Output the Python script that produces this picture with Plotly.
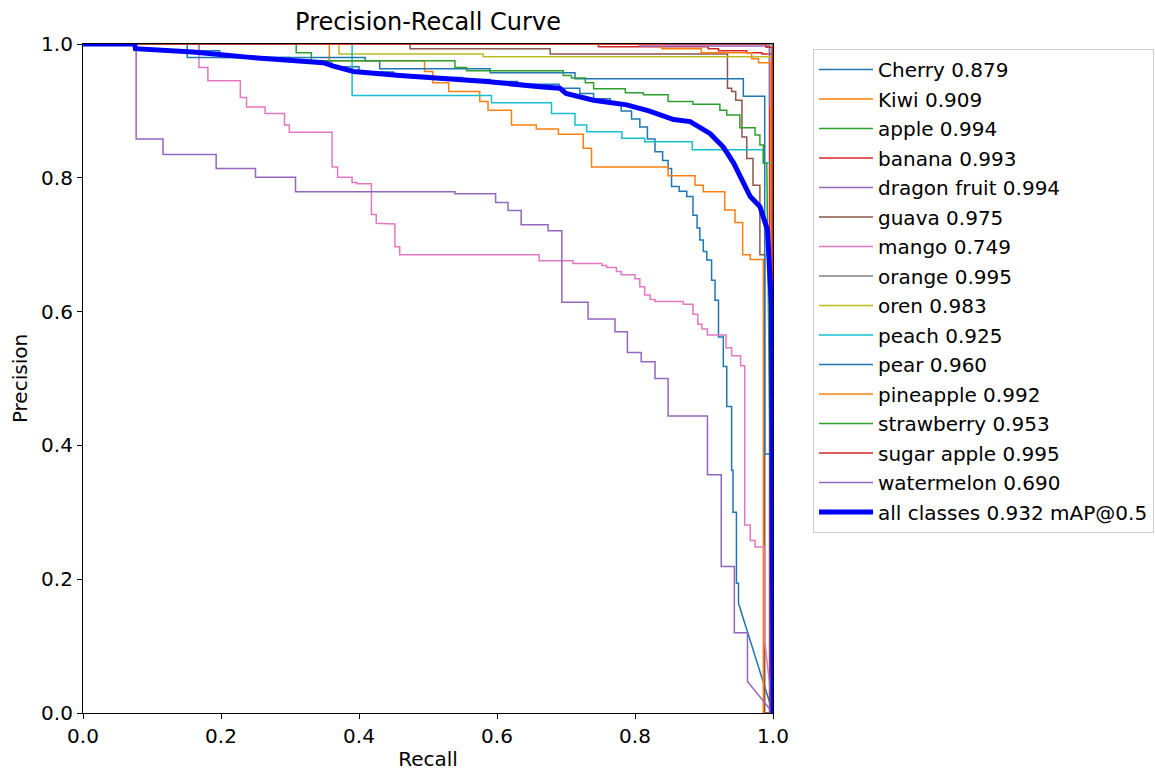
import plotly.graph_objects as go

# ---------------- data (step breakpoints: precision p[i] holds from recall r[i]) ----------------
cherry_r = [0, 0.168, 0.198, 0.30, 0.36, 0.40, 0.45, 0.50, 0.55, 0.59, 0.63, 0.69, 0.72, 0.74, 0.764,
            0.78, 0.795, 0.807, 0.818, 0.829, 0.840, 0.848, 0.853, 0.864, 0.875, 0.884, 0.890, 0.894,
            0.899, 0.904, 0.911, 0.916, 0.921, 0.928, 0.933, 0.940, 0.942, 0.947, 0.950]
cherry_p = [1.0, 0.990, 0.980, 0.974, 0.966, 0.958, 0.953, 0.950, 0.947, 0.944, 0.940, 0.934, 0.926, 0.918,
            0.912, 0.90, 0.888, 0.876, 0.858, 0.839, 0.826, 0.814, 0.787, 0.780, 0.772, 0.744, 0.725,
            0.707, 0.69, 0.677, 0.647, 0.617, 0.562, 0.518, 0.458, 0.363, 0.30, 0.194, 0.164]

kiwi_r = [0, 0.357, 0.495, 0.507, 0.530, 0.575, 0.587, 0.621, 0.657, 0.689, 0.725, 0.737, 0.848, 0.887,
          0.899, 0.930, 0.945, 0.956, 0.967, 0.986]
kiwi_p = [1.0, 0.975, 0.959, 0.942, 0.929, 0.914, 0.901, 0.879, 0.873, 0.865, 0.844, 0.816, 0.803, 0.789,
          0.779, 0.752, 0.733, 0.685, 0.678, 0.0]

apple_r = [0, 0.995, 0.999]
apple_p = [1.0, 0.985, 0.0]

banana_r = [0, 0.747, 0.906, 0.921, 0.962, 0.984, 0.995]
banana_p = [1.0, 0.996, 0.993, 0.990, 0.987, 0.985, 0.0]

dragon_r = [0, 0.807, 0.995, 0.999]
dragon_p = [1.0, 0.997, 0.907, 0.0]

guava_r = [0, 0.474, 0.677, 0.934, 0.940, 0.946, 0.955, 0.962, 0.971, 0.981, 0.988]
guava_p = [1.0, 0.993, 0.985, 0.934, 0.929, 0.916, 0.861, 0.829, 0.789, 0.685, 0.0]

mango_r = [0, 0.168, 0.181, 0.228, 0.237, 0.264, 0.292, 0.299, 0.361, 0.369, 0.390, 0.397, 0.418, 0.425,
           0.439, 0.452, 0.459, 0.661, 0.710, 0.752, 0.759, 0.773, 0.780, 0.800, 0.807, 0.814, 0.822,
           0.829, 0.870, 0.884, 0.891, 0.897, 0.905, 0.932, 0.940, 0.953, 0.959, 0.967, 0.974, 0.988]
mango_p = [1.0, 0.965, 0.945, 0.920, 0.906, 0.896, 0.879, 0.868, 0.816, 0.801, 0.793, 0.791, 0.745, 0.732,
           0.731, 0.697, 0.685, 0.676, 0.672, 0.669, 0.666, 0.660, 0.655, 0.649, 0.637, 0.625, 0.618,
           0.615, 0.611, 0.596, 0.581, 0.574, 0.565, 0.546, 0.534, 0.519, 0.281, 0.258, 0.248, 0.107]

orange_r = [0, 0.999]
orange_p = [1.0, 0.0]

oren_r = [0, 0.371, 0.580, 0.998]
oren_p = [1.0, 0.985, 0.981, 0.0]

peach_r = [0, 0.390, 0.592, 0.679, 0.713, 0.730, 0.781, 0.814, 0.883, 0.986, 0.998]
peach_p = [1.0, 0.923, 0.912, 0.896, 0.879, 0.869, 0.859, 0.854, 0.842, 0.822, 0.0]

pear_r = [0, 0.151, 0.409, 0.430, 0.590, 0.713, 0.957, 0.988, 0.996]
pear_p = [1.0, 0.980, 0.975, 0.963, 0.957, 0.948, 0.922, 0.387, 0.0]

pineapple_r = [0, 0.839, 0.896, 0.969, 0.979, 0.997]
pineapple_p = [1.0, 0.993, 0.987, 0.978, 0.972, 0.0]

strawberry_r = [0, 0.309, 0.331, 0.539, 0.556, 0.696, 0.708, 0.728, 0.740, 0.786, 0.812, 0.848, 0.884,
                0.923, 0.933, 0.952, 0.974, 0.981, 0.986, 0.991]
strawberry_p = [1.0, 0.987, 0.975, 0.965, 0.960, 0.953, 0.949, 0.942, 0.933, 0.927, 0.924, 0.914, 0.910,
                0.901, 0.894, 0.875, 0.864, 0.849, 0.822, 0.822]

sugar_r = [0, 0.990, 0.999]
sugar_p = [1.0, 0.995, 0.0]

watermelon_r = [0, 0.077, 0.116, 0.193, 0.250, 0.308, 0.539, 0.598, 0.616, 0.635, 0.674, 0.694, 0.732,
                0.771, 0.789, 0.809, 0.829, 0.848, 0.905, 0.925, 0.944, 0.963]
watermelon_p = [1.0, 0.858, 0.835, 0.814, 0.801, 0.779, 0.776, 0.763, 0.751, 0.730, 0.721, 0.614, 0.589,
                0.570, 0.539, 0.525, 0.500, 0.444, 0.356, 0.219, 0.120, 0.047]

# mean curve (smooth, drawn point to point)
all_r = [0, 0.075, 0.076, 0.159, 0.242, 0.314, 0.348, 0.363, 0.392, 0.459, 0.488, 0.585, 0.662, 0.691,
         0.700, 0.740, 0.788, 0.82, 0.856, 0.880, 0.909, 0.928, 0.943, 0.957, 0.967, 0.981, 0.988, 0.992,
         0.995, 0.998]
all_p = [1.0, 1.0, 0.993, 0.988, 0.980, 0.974, 0.972, 0.967, 0.959, 0.953, 0.951, 0.944, 0.936, 0.934,
         0.926, 0.916, 0.909, 0.90, 0.887, 0.884, 0.866, 0.846, 0.822, 0.792, 0.772, 0.757, 0.737, 0.722,
         0.662, 0.607]

class_names = ["Cherry", "Kiwi", "apple", "banana", "dragon fruit", "guava", "mango", "orange", "oren",
               "peach", "pear", "pineapple", "strawberry", "sugar apple", "watermelon"]
class_ap = [0.879, 0.909, 0.994, 0.993, 0.994, 0.975, 0.749, 0.995, 0.983, 0.925, 0.960, 0.992, 0.953,
            0.995, 0.690]
mean_ap = 0.932

curves = [(cherry_r, cherry_p), (kiwi_r, kiwi_p), (apple_r, apple_p), (banana_r, banana_p),
          (dragon_r, dragon_p), (guava_r, guava_p), (mango_r, mango_p), (orange_r, orange_p),
          (oren_r, oren_p), (peach_r, peach_p), (pear_r, pear_p), (pineapple_r, pineapple_p),
          (strawberry_r, strawberry_p), (sugar_r, sugar_p), (watermelon_r, watermelon_p)]

tab10 = ["#1f77b4", "#ff7f0e", "#2ca02c", "#d62728", "#9467bd", "#8c564b", "#e377c2", "#7f7f7f",
         "#bcbd22", "#17becf"]


def step_xy(r, p):
    xs, ys = [r[0]], [p[0]]
    for i in range(1, len(r)):
        xs += [r[i], r[i]]
        ys += [p[i - 1], p[i]]
    xs.append(1.0)
    ys.append(0.0)
    return xs, ys


fig = go.Figure()
for i, (name, ap, (r, p)) in enumerate(zip(class_names, class_ap, curves)):
    xs, ys = step_xy(r, p)
    fig.add_trace(go.Scatter(x=xs, y=ys, mode="lines", name=f"{name} {ap:.3f}", legendgroup=name,
                             line=dict(color=tab10[i % 10], width=1.5)))

fig.add_trace(go.Scatter(x=all_r + [1.0], y=all_p + [0.0], mode="lines",
                         name=f"all classes {mean_ap:.3f} mAP@0.5", legendgroup="all",
                         line=dict(color="blue", width=5)))

tick_vals = [0.0, 0.2, 0.4, 0.6, 0.8, 1.0]
tick_text = ["0.0", "0.2", "0.4", "0.6", "0.8", "1.0"]

axis_common = dict(range=[0, 1], tickvals=tick_vals, ticktext=tick_text, ticks="outside", ticklen=5,
                   tickwidth=1, tickcolor="black", showline=True, linecolor="black", linewidth=1.2,
                   mirror=True, showgrid=False, zeroline=False, automargin=False,
                   tickfont=dict(size=20, color="black"))

fig.update_layout(
    width=1155, height=771,
    margin=dict(l=83, r=382, t=44, b=58, autoexpand=False),
    plot_bgcolor="white", paper_bgcolor="white",
    font=dict(family="DejaVu Sans", size=20, color="black"),
    title=dict(text="Precision-Recall Curve", x=0.5, xref="paper", xanchor="center",
               y=1 - 22 / 771, yref="container", yanchor="middle", font=dict(size=24, color="black")),
    xaxis=dict(title=dict(text="Recall", font=dict(size=20), standoff=14), **axis_common),
    yaxis=dict(title=dict(text="Precision", font=dict(size=20), standoff=8), **axis_common),
    legend=dict(x=813 / 1155, xref="container", xanchor="left", y=1 - 49 / 771, yref="container",
                yanchor="top", bgcolor="white", maxheight=600,
                bordercolor="#cccccc", borderwidth=1, font=dict(size=20, color="black"),
                tracegroupgap=0.5, itemwidth=54),
    showlegend=True,
)

fig.write_html("out.html")
